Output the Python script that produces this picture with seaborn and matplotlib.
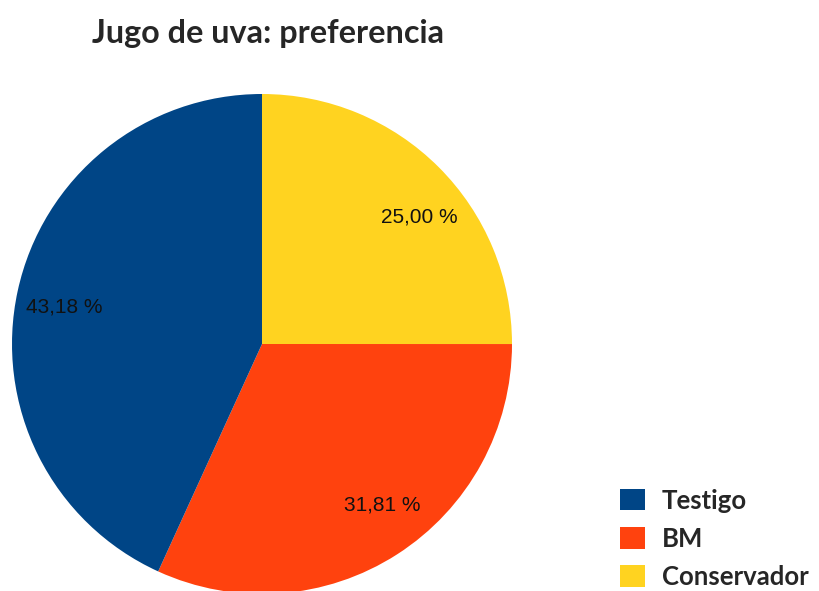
import matplotlib
matplotlib.use("Agg")
import matplotlib.pyplot as plt
from matplotlib.patches import Patch
import seaborn as sns

# pie data (clockwise from 12 o'clock)
categories = ["Conservador", "BM", "Testigo"]
percentages = [25.00, 31.81, 43.18]
colors = ["#ffd320", "#ff420e", "#004586"]
legend_order = ["Testigo", "BM", "Conservador"]

sns.set_theme(style="white")
plt.rcParams["font.family"] = ["Liberation Sans", "DejaVu Sans"]

fig = plt.figure(figsize=(8.2, 5.91), dpi=100)
ax = fig.add_axes([12 / 820, -3 / 591, 500 / 820, 500 / 591])

labels_pct = iter([f"{p:.2f} %".replace(".", ",") for p in percentages])
wedges, texts, autotexts = ax.pie(
    percentages,
    colors=colors,
    startangle=90,
    counterclock=False,
    autopct=lambda p: next(labels_pct),
    pctdistance=0.81,
    textprops={"fontsize": 15, "color": "#111111"},
    wedgeprops={"linewidth": 0},
    normalize=True,
)
# small nudges so labels sit where the original renderer put them
nudges = [(0.056, -0.064), (0.044, 0.036), (0.0, -0.024)]
for t, (dx, dy) in zip(autotexts, nudges):
    x, y = t.get_position()
    t.set_position((x + dx, y + dy))

ax.set_aspect("equal")
ax.set_xlim(-1, 1)
ax.set_ylim(-1, 1)
ax.axis("off")

fig.text(268 / 820, 1 - 33 / 591, "Jugo de uva: preferencia", ha="center", va="center",
         fontsize=23.3, fontweight="bold", family=["Lato", "DejaVu Sans"])

color_map = dict(zip(categories, colors))
handles = [Patch(facecolor=color_map[c], edgecolor="none", label=c) for c in legend_order]
leg = fig.legend(handles=handles, loc="lower left", bbox_to_anchor=(597 / 820, -21 / 591),
                 frameon=False, handlelength=0.97, handleheight=0.9, handletextpad=0.65,
                 labelspacing=0.55, prop={"family": ["Lato", "DejaVu Sans"], "size": 18.5, "weight": "bold"})

fig.savefig("out.png", dpi=100)
